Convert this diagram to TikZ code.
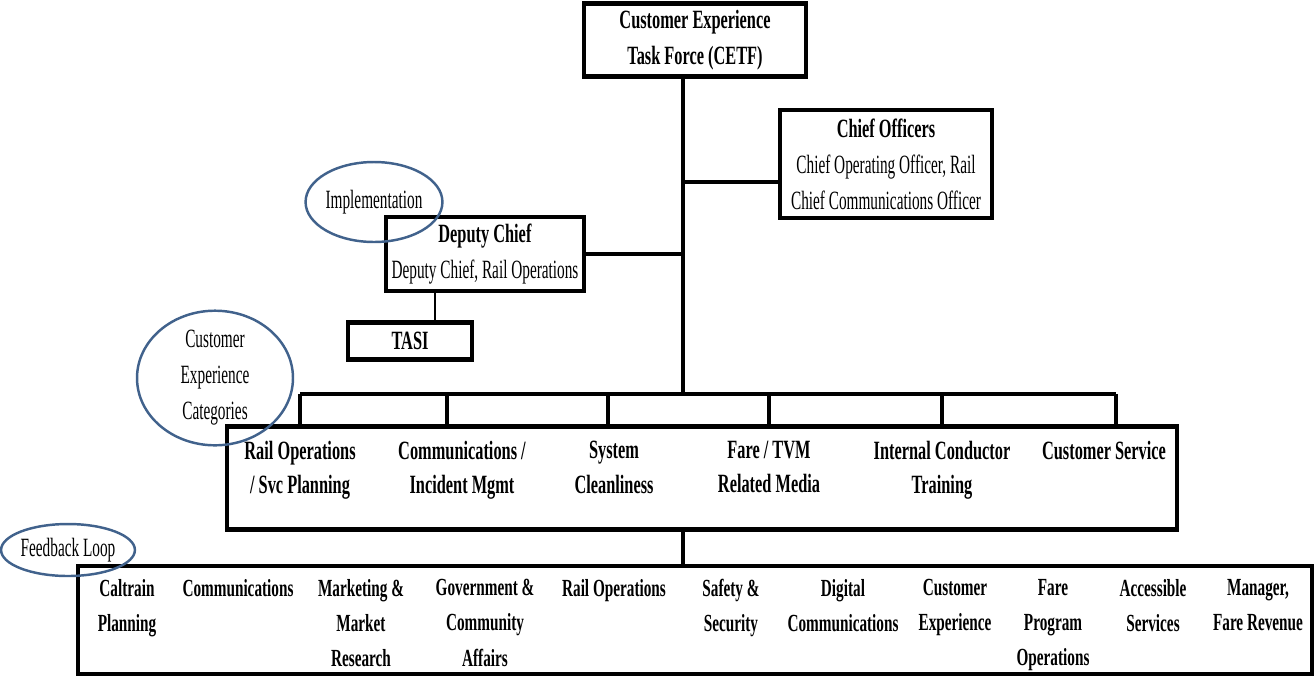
\documentclass[tikz,border=0pt]{standalone}
\usepackage{fontspec}
\setmainfont{Liberation Serif}[UprightFeatures={FakeStretch=0.58}, BoldFeatures={FakeStretch=0.62}]
\usetikzlibrary{shapes.geometric}
\definecolor{ringblue}{RGB}{65,98,140}

\begin{document}
\begin{tikzpicture}[x=0.02cm, y=-0.02cm,
		every node/.style={font=\fontsize{15}{20.5}\selectfont},
		box/.style={draw, line width=2.4pt, inner sep=0pt, align=center},
		ring/.style={ellipse, draw=ringblue, line width=1.4pt, inner sep=0pt, align=center},
		lbl/.style={anchor=north, inner sep=0pt, align=center, font=\fontsize{15}{19.5}\selectfont\bfseries},
		dept/.style={anchor=north, inner sep=0pt, align=center, font=\fontsize{14}{20}\selectfont\bfseries},
		link/.style={line width=2.4pt}]
			\useasboundingbox (0,0) rectangle (1314,677);
			\node[box, minimum width=4.44cm, minimum height=1.46cm] (P_0_0) at (695,40) {\textbf{Customer Experience}\\\textbf{Task Force (CETF)}};
			\node[box, minimum width=4.24cm, minimum height=2.16cm] (P_1_0) at (886,164) {\textbf{Chief Officers}\\Chief Operating Officer, Rail\\Chief Communications Officer};
			\node[box, minimum width=3.96cm, minimum height=1.48cm] (P_1_1) at (485,254) {\textbf{Deputy Chief}\\Deputy Chief, Rail Operations};
			\node[box, minimum width=2.48cm, minimum height=0.74cm] (P_2_0) at (410,341) {\textbf{TASI}};
			\node[box, minimum width=19cm, minimum height=2.06cm] (P_3_0) at (702,478) {};
			\node[box, minimum width=24.68cm, minimum height=2.16cm] (P_4_0) at (695,620) {};
			% trunk
			\coordinate (J_0) at (683,394);
			\coordinate (J_1) at (683,182);
			\coordinate (J_2) at (435,0);
			\draw[link] (J_0 |- P_0_0.south) -- (J_0);
			\draw[link] (J_1) -- (J_1 -| P_1_0.west);
			\draw[link] (P_1_1.east) -- (P_1_1.east -| J_0);
			\draw[line width=0.8pt] (J_2 |- P_1_1.south) -- (J_2 |- P_2_0.north);
			% categories
			\coordinate (K_0) at (300,394);
			\coordinate (K_5) at (1116,394);
			\draw[link] (K_0) -- (K_5);
			\foreach \x [count=\i] in {300,447,608,769,942,1116} {
				\coordinate (T_\i) at (\x,394);
				\draw[link] (T_\i) -- (T_\i |- P_3_0.north);
			}
			\node[lbl] (C_0) at (300,441) {Rail Operations\\/ Svc Planning};
			\node[lbl] (C_1) at (462,441) {Communications /\\Incident Mgmt};
			\node[lbl] (C_2) at (614,441) {System\\Cleanliness};
			\node[lbl] (C_3) at (769,441) {Fare / TVM\\Related Media};
			\node[lbl] (C_4) at (942,441) {Internal Conductor\\Training};
			\node[lbl] (C_5) at (1104,441) {Customer Service};
			\draw[link] (J_0 |- P_3_0.south) -- (J_0 |- P_4_0.north);
			% departments
			\node[dept] (D_0) at (127,579) {Caltrain\\Planning};
			\node[dept] (D_1) at (238,579) {Communications};
			\node[dept] (D_2) at (361,579) {Marketing \&\\Market\\Research};
			\node[dept] (D_3) at (485,579) {Government \&\\Community\\Affairs};
			\node[dept] (D_4) at (614,579) {Rail Operations};
			\node[dept] (D_5) at (731,579) {Safety \&\\Security};
			\node[dept] (D_6) at (843,579) {Digital\\Communications};
			\node[dept] (D_7) at (955,579) {Customer\\Experience};
			\node[dept] (D_8) at (1053,579) {Fare\\Program\\Operations};
			\node[dept] (D_9) at (1153,579) {Accessible\\Services};
			\node[dept] (D_10) at (1258,579) {Manager,\\Fare Revenue};
			% rings
			\node[ring, minimum width=2.48cm, minimum height=1.6cm] (E_0) at (374,202) {Implementation};
			\node[ring, minimum width=3.12cm, minimum height=2.48cm] (E_1) at (215,378) {Customer\\Experience\\Categories};
			\node[ring, minimum width=2.32cm, minimum height=1.04cm] (E_2) at (68,550) {Feedback Loop};
		\end{tikzpicture}
\end{document}
